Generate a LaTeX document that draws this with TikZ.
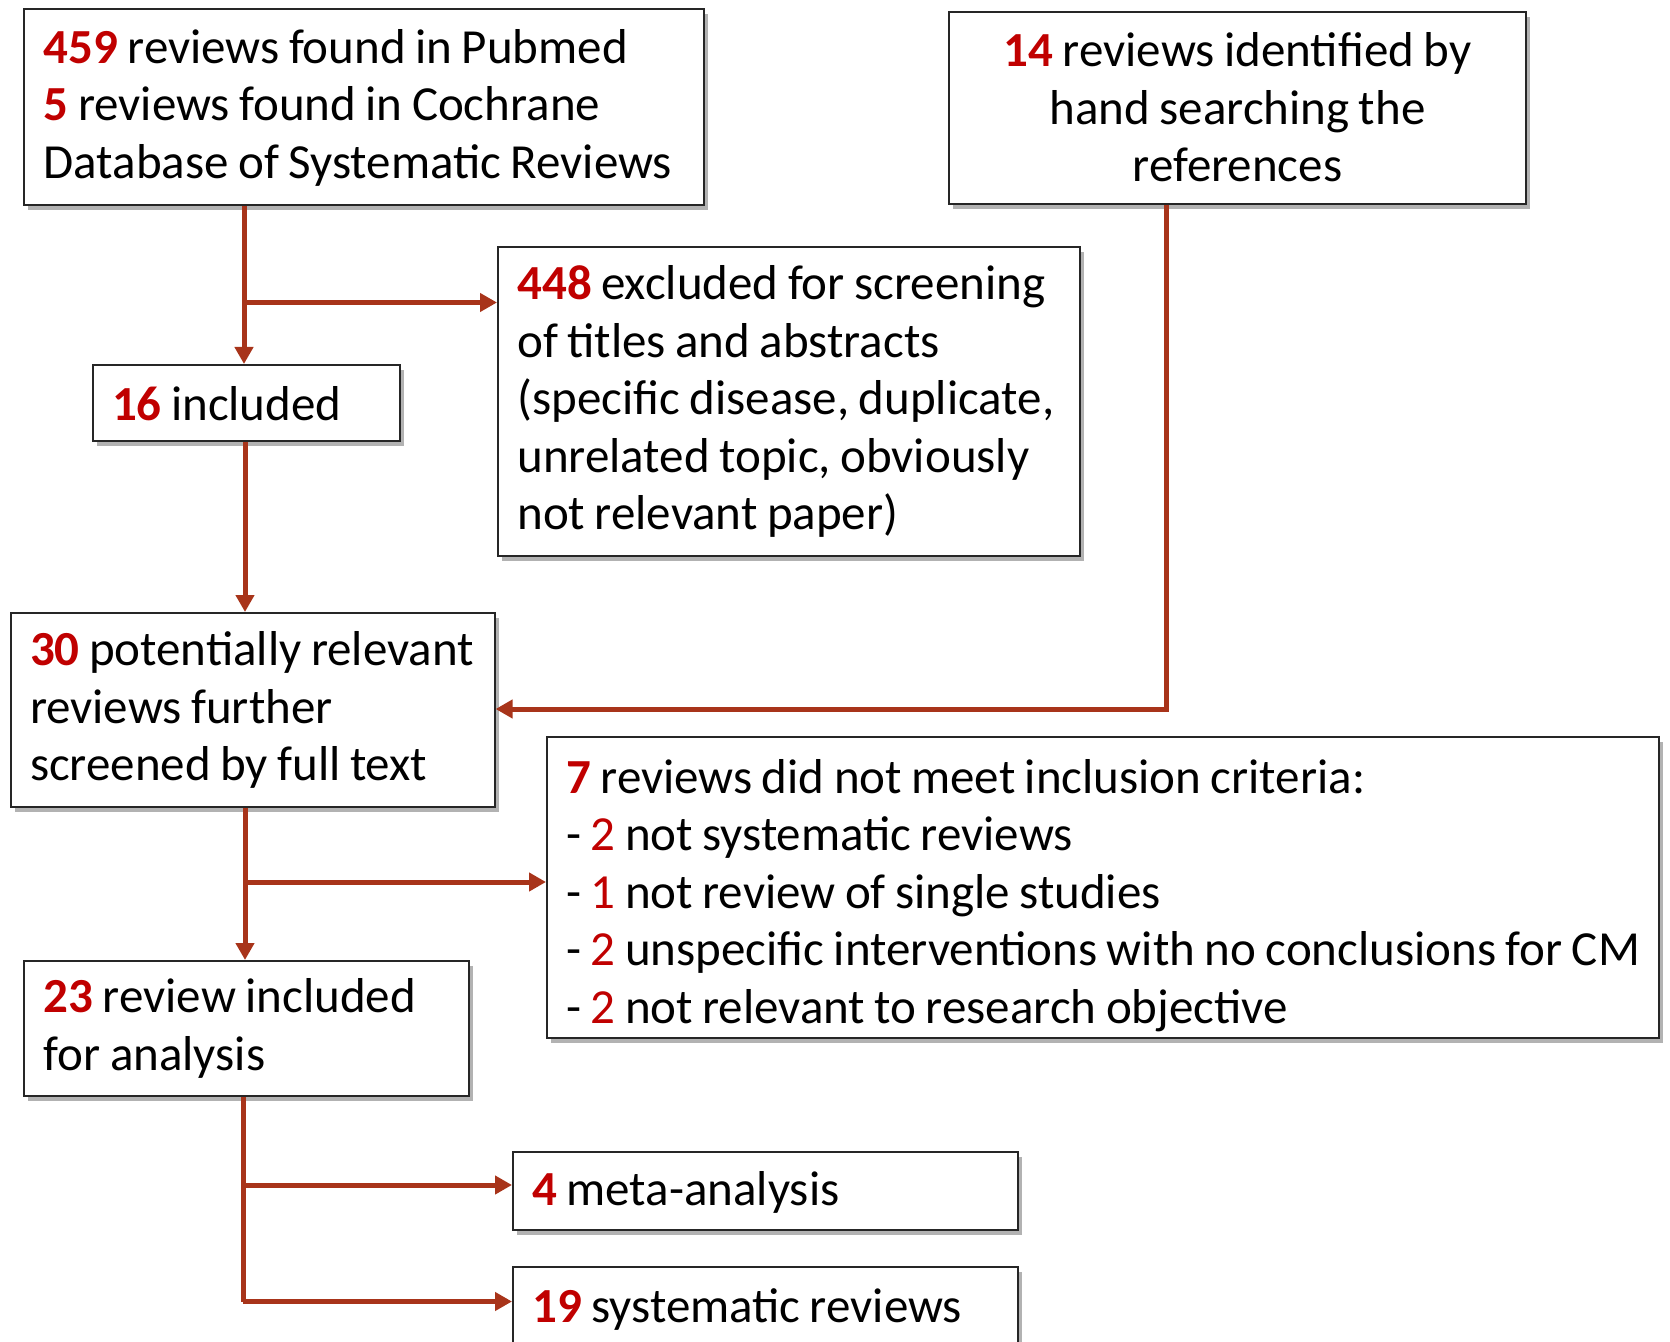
\documentclass[tikz,border=0pt]{standalone}
\usepackage{fontspec}
\setmainfont[WordSpace=0.85]{Carlito}
\usetikzlibrary{arrows.meta,shadows,calc}
\definecolor{numred}{RGB}{192,0,0}
\definecolor{arrc}{RGB}{168,52,26}
\newcommand\bnum[1]{{\bfseries\textcolor{numred}{#1}}}
\newcommand\rnum[1]{\textcolor{numred}{#1}}
\newcommand\mainsize{\fontsize{24.5}{28.75}\selectfont}
\begin{document}
\begin{tikzpicture}[x=0.5pt,y=-0.5pt,
  box/.style={draw=black!85, line width=1pt, fill=white, anchor=north west,
    inner sep=0pt,
    drop shadow={shadow xshift=2pt, shadow yshift=-2.5pt, fill=black, opacity=0.3}},
  txt/.style={anchor=west, inner sep=0pt, align=left, font=\mainsize},
  ctxt/.style={anchor=center, inner sep=0pt, align=center, font=\mainsize},
  arr/.style={draw=arrc, line width=2.5pt, -{Triangle[length=8.5pt,width=9pt]}},
  seg/.style={draw=arrc, line width=2.5pt}]
\useasboundingbox (0,0) rectangle (1670,1342);
% boxes
\node[box, minimum width=340pt, minimum height=98pt] (pub) at (23.4,8.5) {};
\node[box, minimum width=288.5pt, minimum height=96pt] (hand) at (948,10.6) {};
\node[box, minimum width=291pt, minimum height=154.5pt] (excl) at (497,246) {};
\node[box, minimum width=153.5pt, minimum height=38pt] (inc) at (91.6,364) {};
\node[box, minimum width=242pt, minimum height=97pt] (pot) at (9.6,612) {};
\node[box, minimum width=556pt, minimum height=150.5pt] (notmeet) at (546,736) {};
\node[box, minimum width=222.5pt, minimum height=67.5pt] (ana) at (23.4,960) {};
\node[box, minimum width=252.5pt, minimum height=39pt] (meta) at (512,1151) {};
\node[box, minimum width=252.5pt, minimum height=39pt] (sys) at (512,1266) {};
% texts
\node[txt] (pubt) at ([xshift=10pt]pub.west)
  {\bnum{459} reviews found in Pubmed\\\bnum{5} reviews found in Cochrane\\Database of Systematic Reviews};
\node[ctxt] (handt) at (hand.center)
  {\bnum{14} reviews identified by\\hand searching the\\references};
\node[txt] (exclt) at ([xshift=10pt]excl.west)
  {\bnum{448} excluded for screening\\of titles and abstracts\\(specific disease, duplicate,\\unrelated topic, obviously\\not relevant paper)};
\node[txt] (inct) at ([xshift=10pt,yshift=-0.5pt]inc.west) {\bnum{16} included};
\node[txt] (pott) at ([xshift=10pt]pot.west)
  {\bnum{30} potentially relevant\\reviews further\\screened by full text};
\node[txt] (notmeett) at ([xshift=10pt,yshift=-4pt]notmeet.west)
  {\bnum{7} reviews did not meet inclusion criteria:\\- \rnum{2} not systematic reviews\\- \rnum{1} not review of single studies\\- \rnum{2} unspecific interventions with no conclusions for CM\\- \rnum{2} not relevant to research objective};
\node[txt] (anat) at ([xshift=10pt]ana.west)
  {\bnum{23} review included\\for analysis};
\node[txt] (metat) at ([xshift=10pt,yshift=-0.5pt]meta.west) {\bnum{4} meta-analysis};
\node[txt] (syst) at ([xshift=10pt,yshift=-1.5pt]sys.west) {\bnum{19} systematic reviews};
% helper coordinates
\coordinate (xa) at (244,0);
\coordinate (xb) at (245,0);
\coordinate (xc) at (1166,0);
\coordinate (xd) at (243,0);
\coordinate (ya) at (0,302.5);
\coordinate (yb) at (0,709);
\coordinate (yc) at (0,882);
\coordinate (yd) at (0,1185);
\coordinate (ye) at (0,1301.5);
% connectors
\draw[arr] (pub.south -| xa) -- (inc.north -| xa);
\draw[arr] (ya -| xa) -- (excl.west |- ya);
\draw[arr] (inc.south -| xb) -- (pot.north -| xb);
\draw[arr] (hand.south -| xc) -- (yb -| xc) -- (pot.east |- yb);
\draw[arr] (pot.south -| xb) -- (ana.north -| xb);
\draw[arr] (yc -| xb) -- (notmeet.west |- yc);
\draw[seg] (ana.south -| xd) -- (ye -| xd);
\draw[arr] (yd -| xd) -- (meta.west |- yd);
\draw[arr] (ye -| xd) -- (sys.west |- ye);
\end{tikzpicture}
\end{document}
